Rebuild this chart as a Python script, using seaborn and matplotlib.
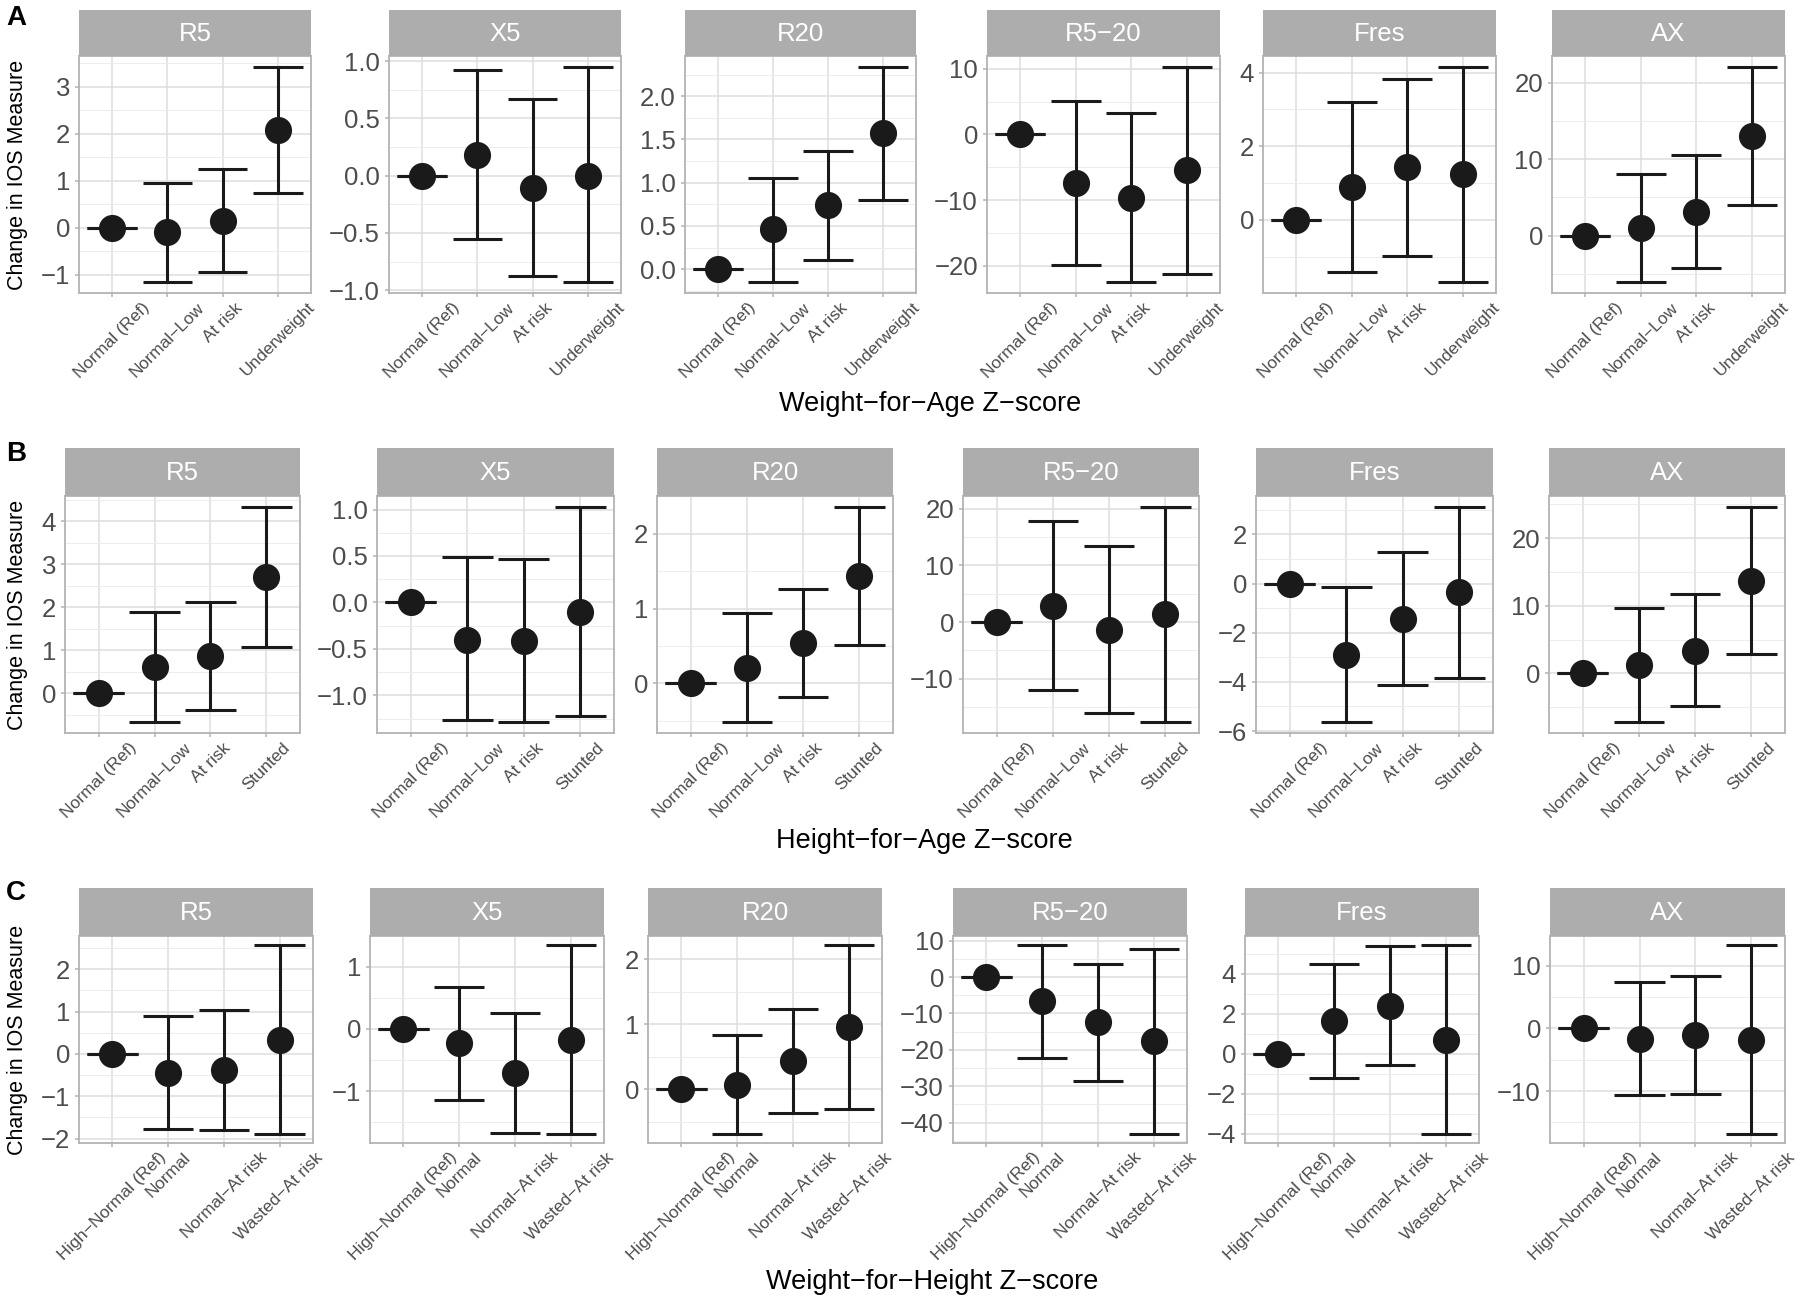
import numpy as np
import matplotlib
matplotlib.use("Agg")
import matplotlib.pyplot as plt
import seaborn as sns
from matplotlib.ticker import MultipleLocator, FuncFormatter

# ---------------- data ----------------
measures = ["R5", "X5", "R20", "R5\u221220", "Fres", "AX"]

waz_groups = ["Normal (Ref)", "Normal\u2212Low", "At risk", "Underweight"]
haz_groups = ["Normal (Ref)", "Normal\u2212Low", "At risk", "Stunted"]
whz_groups = ["High\u2212Normal (Ref)", "Normal", "Normal\u2212At risk", "Wasted\u2212At risk"]

row_titles = ["Weight\u2212for\u2212Age Z\u2212score",
              "Height\u2212for\u2212Age Z\u2212score",
              "Weight\u2212for\u2212Height Z\u2212score"]
row_letters = ["A", "B", "C"]

# Weight-for-Age (rows: R5, X5, R20, R5-20, Fres, AX)
waz_est = [[0, -0.10, 0.15, 2.09],
           [0, 0.18, -0.11, 0.00],
           [0, 0.46, 0.74, 1.57],
           [0, -7.4, -9.65, -5.35],
           [0, 0.89, 1.43, 1.25],
           [0, 0.95, 3.12, 13.06]]
waz_lo = [[0, -1.16, -0.95, 0.75],
          [0, -0.555, -0.88, -0.93],
          [0, -0.15, 0.11, 0.80],
          [0, -19.85, -22.5, -21.2],
          [0, -1.42, -0.97, -1.69],
          [0, -6.12, -4.2, 4.0]]
waz_hi = [[0, 0.96, 1.26, 3.43],
          [0, 0.92, 0.665, 0.95],
          [0, 1.06, 1.37, 2.34],
          [0, 5.1, 3.3, 10.3],
          [0, 3.19, 3.82, 4.16],
          [0, 8.07, 10.5, 22.1]]

# Height-for-Age
haz_est = [[0, 0.60, 0.86, 2.71],
           [0, -0.40, -0.41, -0.10],
           [0, 0.21, 0.54, 1.43],
           [0, 2.87, -1.40, 1.35],
           [0, -2.91, -1.44, -0.35],
           [0, 1.18, 3.33, 13.7]]
haz_lo = [[0, -0.68, -0.40, 1.07],
          [0, -1.27, -1.29, -1.22],
          [0, -0.52, -0.18, 0.51],
          [0, -12.0, -16.0, -17.7],
          [0, -5.64, -4.13, -3.84],
          [0, -7.25, -4.9, 2.8]]
haz_hi = [[0, 1.88, 2.12, 4.34],
          [0, 0.49, 0.466, 1.03],
          [0, 0.94, 1.26, 2.36],
          [0, 17.9, 13.4, 20.35],
          [0, -0.16, 1.27, 3.12],
          [0, 9.6, 11.67, 24.66]]

# Weight-for-Height
whz_est = [[0, -0.445, -0.38, 0.32],
           [0, -0.23, -0.71, -0.17],
           [0, 0.07, 0.43, 0.95],
           [0, -6.7, -12.4, -17.5],
           [0, 1.64, 2.41, 0.70],
           [0, -1.64, -1.0, -1.8]]
whz_lo = [[0, -1.78, -1.79, -1.88],
          [0, -1.14, -1.67, -1.68],
          [0, -0.68, -0.37, -0.30],
          [0, -22.1, -28.5, -43.0],
          [0, -1.19, -0.58, -4.0],
          [0, -10.63, -10.5, -16.8]]
whz_hi = [[0, 0.89, 1.03, 2.56],
          [0, 0.68, 0.25, 1.34],
          [0, 0.84, 1.24, 2.21],
          [0, 8.7, 3.7, 7.8],
          [0, 4.51, 5.41, 5.43],
          [0, 7.51, 8.47, 13.28]]

# y-axis break spacing per panel
waz_steps = [1, 0.5, 0.5, 10, 2, 10]
haz_steps = [1, 0.5, 1, 10, 2, 10]
whz_steps = [1, 1, 1, 10, 2, 10]

# ---------------- style ----------------
sns.set_style("white")
plt.rcParams["font.family"] = ["Liberation Sans", "DejaVu Sans"]
plt.rcParams["axes.unicode_minus"] = True

W, H = 1800, 1301
fig = plt.figure(figsize=(W / 100, H / 100), dpi=100)
fig.patch.set_facecolor("white")

STRIP = "#ADADAD"
BORDER = "#B3B3B3"
GRID = "#DEDEDE"
GRID_MINOR = "#EAEAEA"
TXT = "#4D4D4D"
INK = "#1A1A1A"

# layout in pixels: (strip_top, panel_top, panel_bottom) and column extents
row_v = [(10, 56, 293), (448, 496, 733), (888, 936, 1143)]
row_cols = [
    [(79, 311), (389, 621), (685, 916), (987, 1220), (1263, 1496), (1552, 1785)],
    [(65, 300), (377, 614), (657, 893), (963, 1199), (1256, 1493), (1549, 1785)],
    [(79, 313), (370, 604), (648, 882), (953, 1187), (1245, 1479), (1550, 1785)],
]
row_title_pos = [(930, 404), (924, 841), (932, 1282)]
letter_pos = [(6, 18), (6, 454), (6, 893)]


def fmt_for(step):
    dec = 1 if step < 1 else 0

    def f(v, p):
        v = round(v, 6)
        if abs(v) < 1e-9:
            v = 0.0
        s = f"{v:.{dec}f}"
        return s.replace("-", "\u2212")
    return FuncFormatter(f)


rows = [
    (waz_groups, waz_est, waz_lo, waz_hi, waz_steps),
    (haz_groups, haz_est, haz_lo, haz_hi, haz_steps),
    (whz_groups, whz_est, whz_lo, whz_hi, whz_steps),
]

for r, (groups, est_l, lo_l, hi_l, steps) in enumerate(rows):
    s_top, p_top, p_bot = row_v[r]
    for c, measure in enumerate(measures):
        x0, x1 = row_cols[r][c]
        ax = fig.add_axes([x0 / W, 1 - p_bot / H, (x1 - x0) / W, (p_bot - p_top) / H])
        est = np.array(est_l[c], dtype=float)
        lo = np.array(lo_l[c], dtype=float)
        hi = np.array(hi_l[c], dtype=float)
        pos = np.arange(len(groups))

        ax.vlines(pos, lo, hi, color=INK, lw=2.2, zorder=3)
        ax.hlines(lo, pos - 0.45, pos + 0.45, color=INK, lw=2.2, zorder=3)
        ax.hlines(hi, pos - 0.45, pos + 0.45, color=INK, lw=2.2, zorder=3)
        sns.pointplot(x=groups, y=est, ax=ax, color=INK, errorbar=None,
                      markers="o", linestyle="none", markersize=17.5, zorder=4)

        ymin, ymax = lo.min(), hi.max()
        rng = ymax - ymin
        ax.set_ylim(ymin - 0.05 * rng, ymax + 0.05 * rng)
        ax.set_xlim(-0.6, len(groups) - 0.4)

        step = steps[c]
        ax.yaxis.set_major_locator(MultipleLocator(step))
        ax.yaxis.set_minor_locator(MultipleLocator(step / 2))
        ax.yaxis.set_major_formatter(fmt_for(step))

        ax.set_facecolor("white")
        ax.grid(which="major", axis="both", color=GRID, lw=1.1, zorder=0)
        ax.grid(which="minor", axis="y", color=GRID_MINOR, lw=0.6, zorder=0)
        ax.set_axisbelow(True)
        for sp in ax.spines.values():
            sp.set_visible(True)
            sp.set_color(BORDER)
            sp.set_linewidth(1.3)

        ax.set_xticks(pos)
        ax.set_xticklabels(groups, rotation=45, ha="center", va="top",
                           fontsize=12.5, color=TXT)
        ax.tick_params(axis="y", which="major", labelsize=18.5, labelcolor=TXT,
                       color=BORDER, length=3, width=1.1, pad=3.5, left=True)
        ax.tick_params(axis="x", which="major", color=BORDER, length=3,
                       width=1.1, pad=2, bottom=True)
        ax.tick_params(which="minor", length=0)
        ax.set_xlabel("")
        ax.set_ylabel("")

        # facet strip
        sax = fig.add_axes([x0 / W, 1 - p_top / H, (x1 - x0) / W, (p_top - s_top) / H])
        sax.set_facecolor(STRIP)
        sax.set_xticks([])
        sax.set_yticks([])
        for sp in sax.spines.values():
            sp.set_visible(False)
        sax.text(0.5, 0.48, measure, color="white", fontsize=18.5,
                 ha="center", va="center", transform=sax.transAxes)

    # y-axis title for the row
    fig.text(17.5 / W, 1 - ((p_top + p_bot) / 2) / H, "Change in IOS Measure",
             rotation=90, ha="center", va="center", fontsize=15.5, color="black")
    # x-axis title for the row
    tx, ty = row_title_pos[r]
    fig.text(tx / W, 1 - ty / H, row_titles[r], ha="center", va="center",
             fontsize=19.5, color="black")
    # panel letter
    lx, ly = letter_pos[r]
    fig.text(lx / W, 1 - ly / H, row_letters[r], ha="left", va="center",
             fontsize=20, fontweight="bold", color="black")

fig.savefig("out.png", dpi=100, facecolor="white")
